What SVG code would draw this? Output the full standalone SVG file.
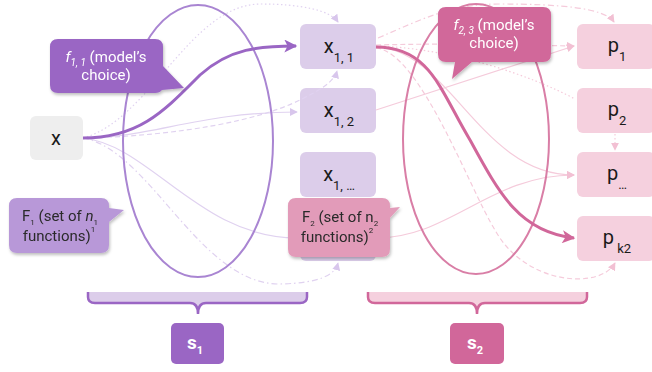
<svg xmlns="http://www.w3.org/2000/svg" width="652" height="372" viewBox="0 0 652 372">
<defs>
<style>
text{font-family:Roboto,"Liberation Sans",sans-serif;}
.nx{fill:#eeeeee;}
.n1{fill:#dccdea;}
.np{fill:#f5d0de;}
.t{font-size:20px;fill:#1a1a1a;text-anchor:middle;}
.sub{font-size:13px;}
.ct{font-size:15px;fill:#ffffff;text-anchor:middle;}
.cd{font-size:15px;fill:#2a2a2a;text-anchor:middle;}
.lp{fill:none;stroke:#e0d2f0;stroke-width:1.2;}
.lk{fill:none;stroke:#f5cbdb;stroke-width:1.2;}
.dash{stroke-dasharray:5 3;}
.dot{stroke-dasharray:1.5 2.5;}
.dd{stroke-dasharray:6 3 1.5 3;}
</style>
<marker id="ap" viewBox="0 0 10 10" refX="9" refY="5" markerWidth="8" markerHeight="8" markerUnits="userSpaceOnUse" orient="auto"><path d="M0,0 L10,5 L0,10 z" fill="#d8c6ec"/></marker>
<marker id="ak" viewBox="0 0 10 10" refX="9" refY="5" markerWidth="8" markerHeight="8" markerUnits="userSpaceOnUse" orient="auto"><path d="M0,0 L10,5 L0,10 z" fill="#f2c0d3"/></marker>
<marker id="bp" viewBox="0 0 10 10" refX="9" refY="5" markerWidth="14" markerHeight="13" markerUnits="userSpaceOnUse" orient="auto"><path d="M0,0 L10,5 L0,10 L2.5,5 z" fill="#9a66c4"/></marker>
<marker id="bk" viewBox="0 0 10 10" refX="9" refY="5" markerWidth="14" markerHeight="13" markerUnits="userSpaceOnUse" orient="auto"><path d="M0,0 L10,5 L0,10 L2.5,5 z" fill="#d1679a"/></marker>
<filter id="sh" x="-10%" y="-10%" width="130%" height="140%"><feDropShadow dx="1" dy="2" stdDeviation="1.5" flood-color="#000" flood-opacity="0.25"/></filter>
</defs>

<g id="nodes-back">
<g id="node-x"><rect class="nx" x="30" y="116" width="53" height="44" rx="6"/><text class="t" x="56" y="145">x</text></g>
<g id="node-x11"><rect class="n1" x="300" y="24" width="76" height="45" rx="6"/><text class="t" x="339" y="53">x<tspan class="sub" dy="9">1, 1</tspan></text></g>
<g id="node-x12"><rect class="n1" x="300" y="88" width="76" height="45" rx="6"/><text class="t" x="339" y="117">x<tspan class="sub" dy="9">1, 2</tspan></text></g>
<g id="node-x1e"><rect class="n1" x="300" y="152" width="76" height="45" rx="6"/><text class="t" x="339" y="181">x<tspan class="sub" dy="9">1, …</tspan></text></g>
<g id="node-x1n"><rect class="n1" x="300" y="216" width="76" height="45" rx="6"/></g>
<g id="node-p1"><rect class="np" x="577" y="24" width="78" height="45" rx="6"/><text class="t" x="617" y="52">p<tspan class="sub" dy="9">1</tspan></text></g>
<g id="node-p2"><rect class="np" x="577" y="88" width="78" height="45" rx="6"/><text class="t" x="617" y="116">p<tspan class="sub" dy="9">2</tspan></text></g>
<g id="node-pe"><rect class="np" x="577" y="152" width="78" height="45" rx="6"/><text class="t" x="617" y="180">p<tspan class="sub" dy="9">…</tspan></text></g>
<g id="node-pk2"><rect class="np" x="577" y="216" width="78" height="45" rx="6"/><text class="t" x="617" y="244">p<tspan class="sub" dy="9"> k2</tspan></text></g>
</g>

<g id="connectors">
<path class="lp" d="M83,138 C150,138 200,112 297,112" marker-end="url(#ap)"/>
<path class="lp dash" d="M83,138 C180,136 260,120 300,100 C320,90 334,82 337,71" marker-end="url(#ap)"/>
<path class="lp dot" d="M83,138 C150,120 190,5 260,4 C300,4 330,10 338,22" marker-end="url(#ap)"/>
<path class="lp" d="M83,138 C150,145 200,238 297,238" />
<path class="lp dd" d="M83,138 C150,150 200,285 280,284 C320,283 335,275 338,263" marker-end="url(#ap)"/>
<path class="lk dash" d="M376,45 C450,43 520,45 574,46" marker-end="url(#ak)"/>
<path class="lk" d="M376,110 L574,46" marker-end="url(#ak)"/>
<path class="lk" d="M376,47 C450,50 480,175 574,175" marker-end="url(#ak)"/>
<path class="lk" d="M376,238 C450,238 490,175 574,175" marker-end="url(#ak)"/>
<path class="lk dash" d="M376,48 C420,52 470,190 495,230 C525,285 600,290 615,263" marker-end="url(#ak)"/>
<path class="lk dd" d="M378,38 C420,20 450,4 500,4 C560,4 605,8 614,22" marker-end="url(#ak)"/>
<path class="lk dot" d="M376,46 C450,48 530,75 575,99"/>
<path class="lk dot" d="M615,134 L615,150" marker-end="url(#ak)"/>
<ellipse cx="198" cy="141" rx="75" ry="136" fill="none" stroke="#a985d2" stroke-width="2"/>
<ellipse cx="476" cy="139" rx="73" ry="135" fill="none" stroke="#d97ea6" stroke-width="2"/>
<path d="M83,138 C140,138 165,110 200,75 C230,48 260,46 296,46" fill="none" stroke="#9a66c4" stroke-width="3" marker-end="url(#bp)"/>
<path d="M376,47 C430,47 440,90 470,140 C500,195 520,232 574,238" fill="none" stroke="#d1679a" stroke-width="3" marker-end="url(#bk)"/>
</g>

<g id="callout-f11" filter="url(#sh)">
<path d="M58,39 H155 Q163,39 163,47 V66 L184,88 L162,90 Q160,93 155,93 H58 Q50,93 50,85 V47 Q50,39 58,39 Z" fill="#9a66c4"/>
<text class="ct" x="106" y="62"><tspan font-style="italic">f</tspan><tspan font-style="italic" font-size="10" dy="4">1, 1</tspan><tspan dy="-4"> (model’s</tspan></text>
<text class="ct" x="106" y="80">choice)</text>
</g>
<g id="callout-f23" filter="url(#sh)">
<path d="M446,7 H543 Q551,7 551,15 V54 Q551,62 543,62 H472 L452,79 L455,62 H446 Q438,62 438,54 V15 Q438,7 446,7 Z" fill="#d1679a"/>
<text class="ct" x="494" y="30"><tspan font-style="italic">f</tspan><tspan font-style="italic" font-size="10" dy="4">2, 3</tspan><tspan dy="-4"> (model’s</tspan></text>
<text class="ct" x="494" y="48">choice)</text>
</g>
<g id="callout-F1" filter="url(#sh)">
<path d="M17,198 H101 Q109,198 109,206 V208 L124,210 L109,222 V245 Q109,253 101,253 H17 Q9,253 9,245 V206 Q9,198 17,198 Z" fill="#b898d8"/>
<text class="cd" x="60" y="221">F<tspan font-size="8" dy="4">1</tspan><tspan dy="-4">  (set of </tspan><tspan font-style="italic">n</tspan><tspan font-size="8" dy="4">1</tspan></text>
<text class="cd" x="59" y="241">functions)<tspan font-size="8" dy="-9">1</tspan></text>
</g>
<g id="callout-F2" filter="url(#sh)">
<path d="M296,198 H382 Q390,198 390,206 V208 L400,207 L390,218 V249 Q390,257 382,257 H296 Q288,257 288,249 V206 Q288,198 296,198 Z" fill="#e29bb9"/>
<text class="cd" x="340" y="222">F<tspan font-size="8" dy="4">2</tspan><tspan dy="-4"> (set of n</tspan><tspan font-size="8" dy="4">2</tspan></text>
<text class="cd" x="337" y="242">functions)<tspan font-size="8" dy="-9">2</tspan></text>
</g>

<g id="brace-s1">
<path d="M88,292 V297 Q88,303 95,303 H190 Q198,303 198,314 Q198,303 206,303 H300 Q307,303 307,297 V292 Z" fill="#dccdea"/>
<path d="M88,292 V297 Q88,303 95,303 H190 Q198,303 198,314 Q198,303 206,303 H300 Q307,303 307,297 V292" fill="none" stroke="#9a66c4" stroke-width="2.5"/>
</g>
<g id="brace-s2">
<path d="M368,292 V297 Q368,303 375,303 H469 Q477,303 477,314 Q477,303 485,303 H580 Q587,303 587,297 V292 Z" fill="#f5d0de"/>
<path d="M368,292 V297 Q368,303 375,303 H469 Q477,303 477,314 Q477,303 485,303 H580 Q587,303 587,297 V292" fill="none" stroke="#d1679a" stroke-width="2.5"/>
</g>
<g id="node-s1"><rect x="171" y="323" width="53" height="41" rx="5" fill="#9a66c4"/><text x="195" y="349" font-size="19" font-weight="bold" fill="#fff" text-anchor="middle">s<tspan font-size="11" dy="5">1</tspan></text></g>
<g id="node-s2"><rect x="450" y="323" width="54" height="41" rx="5" fill="#d1679a"/><text x="475" y="349" font-size="19" font-weight="bold" fill="#fff" text-anchor="middle">s<tspan font-size="11" dy="5">2</tspan></text></g>
</svg>
